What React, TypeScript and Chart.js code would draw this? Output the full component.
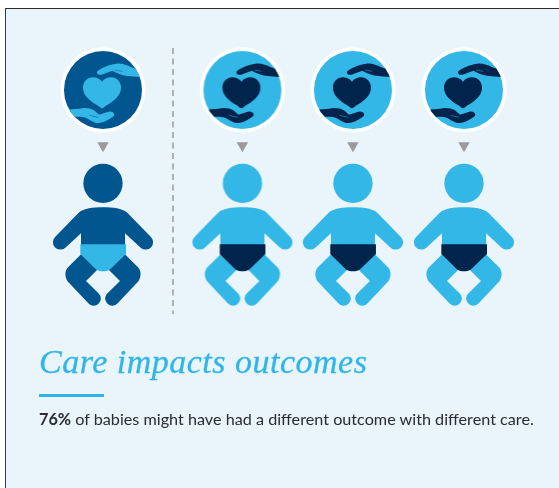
import React, { useEffect, useRef } from "react";
import { Chart, registerables } from "chart.js";

Chart.register(...registerables);

// Data
const babies = ["Baby 1", "Baby 2", "Baby 3", "Baby 4"];
const slots = [0, 1.255, 2.25, 3.25];
const differentCare = [false, true, true, true];
const rowBaby = [0, 0, 0, 0];
const rowArrow = [0.617, 0.617, 0.617, 0.617];
const rowCare = [1, 1, 1, 1];
const dividerX = [0.63, 0.63];
const dividerY = [1.29, -0.545];
const titleText = "Care impacts outcomes";
const statValue = "76%";
const statText = " of babies might have had a different outcome with different care.";

const LIGHT = "#33B7E6";
const MID = "#01568F";
const DARK = "#00244C";

const TORSO =
  "M189,157 C220,157 245,160 262,173 L332,245 A21,21 0 0 1 302,278 L255,235 L255,272 L123,272 L123,235 L76,278 A21,21 0 0 1 46,245 L116,173 C133,160 158,157 189,157 Z";
const LEG =
  "M124,297 L84,337 C75,346 73,363 82,378 L145,445 A21,21 0 0 0 177,416 L138,378 L172,344 L200,300 Z";
const DIAPER =
  "M121,268 L258,268 L258,297 L212,341 C206,347 198,349 189,349 C180,349 172,347 166,341 L121,297 Z";
const HEART =
  "M187,205 C183,205 179,200 173,196 C156,185 130,170 130,143 C130,125 143,112 160,112 C171,112 181,117 187,125 C193,117 203,112 214,112 C231,112 244,125 244,143 C244,170 218,185 201,196 C195,200 191,205 187,205 Z";
const HAND_TOP =
  "M175,92 C185,84 205,74 230,71 C245,69 262,75 275,82 L300,90 L308,112 L265,108 C250,106 236,101 224,95 L218,92 L186,104 C173,107 168,97 175,92 Z";
const HAND_BOTTOM =
  "M80,209 L118,206 C135,202 150,204 163,211 L178,224 L206,215 C221,212 230,224 219,231 C205,240 190,249 176,249 C160,249 150,238 138,233 C128,230 115,230 100,231 L80,231 Z";

function babyIcon(body: string, diaper: string) {
  const c = document.createElement("canvas");
  c.width = 120;
  c.height = 170;
  const g = c.getContext("2d")!;
  g.translate(60, 85);
  g.scale(1 / 3, 1 / 3);
  g.translate(-189, -240);
  g.fillStyle = body;
  g.beginPath();
  g.arc(189, 85, 59, 0, Math.PI * 2);
  g.fill();
  g.fill(new Path2D(TORSO));
  g.fill(new Path2D(LEG));
  g.save();
  g.translate(378, 0);
  g.scale(-1, 1);
  g.fill(new Path2D(LEG));
  g.restore();
  g.fillStyle = diaper;
  g.fill(new Path2D(DIAPER));
  return c;
}

function careIcon(bg: string, fg: string) {
  const c = document.createElement("canvas");
  c.width = 90;
  c.height = 90;
  const g = c.getContext("2d")!;
  g.translate(45, 45);
  g.scale(1 / 3, 1 / 3);
  g.translate(-190, -150);
  g.fillStyle = "#FFFFFF";
  g.beginPath();
  g.arc(190, 150, 128, 0, Math.PI * 2);
  g.fill();
  g.save();
  g.beginPath();
  g.arc(190, 150, 117, 0, Math.PI * 2);
  g.clip();
  g.fillStyle = bg;
  g.fillRect(0, 0, 400, 400);
  g.fillStyle = fg;
  g.fill(new Path2D(HEART));
  g.fill(new Path2D(HAND_TOP));
  g.fill(new Path2D(HAND_BOTTOM));
  g.strokeStyle = bg;
  g.lineWidth = 1.5;
  g.beginPath();
  g.moveTo(226, 90);
  g.lineTo(248, 94);
  g.moveTo(150, 226);
  g.lineTo(176, 232);
  g.stroke();
  g.restore();
  return c;
}

export default function App() {
  const ref = useRef<HTMLCanvasElement>(null);
  useEffect(() => {
    const babyNormal = babyIcon(MID, LIGHT);
    const babyDifferent = babyIcon(LIGHT, DARK);
    const careNormal = careIcon(MID, LIGHT);
    const careDifferent = careIcon(LIGHT, DARK);
    const pts = (ys: number[]) => slots.map((x, i) => ({ x, y: ys[i] }));
    const chart = new Chart(ref.current!, {
      type: "scatter",
      data: {
        labels: babies,
        datasets: [
          {
            label: "Divider",
            data: dividerX.map((x, i) => ({ x, y: dividerY[i] })),
            showLine: true,
            borderColor: "#9B9B9B",
            borderWidth: 1.5,
            borderDash: [6, 4.5],
            pointRadius: 0,
            clip: false,
          },
          {
            label: "Care",
            data: pts(rowCare),
            pointStyle: differentCare.map((d) => (d ? careDifferent : careNormal)),
            clip: false,
          },
          {
            label: "Arrow",
            data: pts(rowArrow),
            pointStyle: "triangle",
            pointRotation: 180,
            pointRadius: 6.6,
            pointBackgroundColor: "#999A9C",
            pointBorderWidth: 0,
            clip: false,
          },
          {
            label: "Babies",
            data: pts(rowBaby),
            pointStyle: differentCare.map((d) => (d ? babyDifferent : babyNormal)),
            clip: false,
          },
        ],
      } as any,
      options: {
        responsive: false,
        animation: false,
        events: [],
        layout: { padding: { left: 103, right: 95, top: 90, bottom: 253 } },
        plugins: { legend: { display: false }, tooltip: { enabled: false }, title: { display: false } },
        scales: {
          x: { type: "linear", min: 0, max: 3.25, display: false },
          y: { type: "linear", min: 0, max: 1, display: false },
        },
      } as any,
    });
    return () => chart.destroy();
  }, []);

  return (
    <div style={{ position: "absolute", left: 0, top: 0, width: 559, height: 488, overflow: "hidden", background: "#FFFFFF" }}>
      <div
        style={{
          position: "absolute",
          left: 5,
          top: 8,
          width: 554,
          height: 480,
          boxSizing: "border-box",
          background: "#E9F5FB",
          borderLeft: "1.5px solid #3A3A3A",
          borderTop: "1.5px solid #2A2A2A",
        }}
      />
      <canvas ref={ref} width={559} height={488} style={{ position: "absolute", left: 0, top: 0, width: 559, height: 488 }} />
      <div
        style={{
          position: "absolute",
          left: 39,
          top: 343,
          fontFamily: '"Liberation Serif", serif',
          fontStyle: "italic",
          fontSize: 34,
          lineHeight: "38px",
          letterSpacing: "0.5px",
          WebkitTextStroke: "0.3px #2FB5E8",
          color: "#2FB5E8",
          whiteSpace: "nowrap",
        }}
      >
        {titleText}
      </div>
      <div style={{ position: "absolute", left: 39, top: 394, width: 65, height: 3, background: "#2FB5E8" }} />
      <div
        style={{
          position: "absolute",
          left: 39,
          top: 409,
          fontFamily: "Lato, sans-serif",
          fontSize: 16.2,
          lineHeight: "20px",
          color: "#2B2B33",
          whiteSpace: "nowrap",
        }}
      >
        <b>{statValue}</b>
        {statText}
      </div>
    </div>
  );
}
